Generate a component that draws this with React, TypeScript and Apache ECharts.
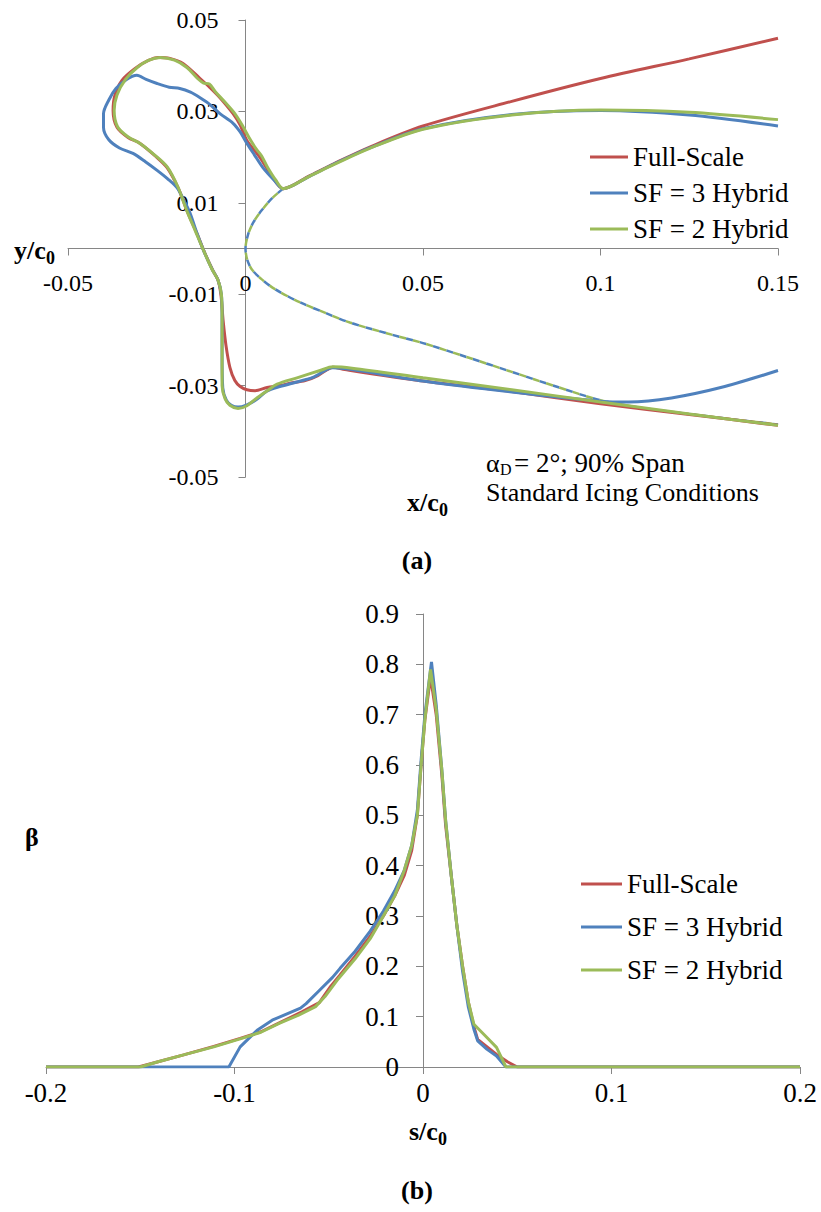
import React, { useEffect, useRef } from "react";
import * as echarts from "echarts";

// Excel-style series colours
const RED = "#C0504D";
const BLUE = "#4F81BD";
const GREEN = "#9BBB59";
const AXIS = "#868686";
const FONT = "'Liberation Serif', 'Times New Roman', serif";

const seriesNames = ["Full-Scale", "SF = 3 Hybrid", "SF = 2 Hybrid"];

// (a) Ice shape outlines, [x/c0, y/c0], traced from the upper aft surface,
// over the upper horn, around the leading edge and back along the lower surface.
const iceFullScale: number[][] = [
  [0.15, 0.046], [0.125, 0.0415], [0.1, 0.0372], [0.075, 0.0322], [0.05, 0.0268],
  [0.035, 0.0222], [0.025, 0.0186], [0.018, 0.0159], [0.0106, 0.0131],
  [0.0077, 0.0155], [0.0041, 0.0199], [0.0004, 0.0236], [-0.0015, 0.027],
  [-0.0035, 0.0295], [-0.0072, 0.033], [-0.01, 0.0352], [-0.0128, 0.0372],
  [-0.0176, 0.0405], [-0.0213, 0.0416], [-0.0246, 0.0418], [-0.0275, 0.0411],
  [-0.0311, 0.0394], [-0.0348, 0.0368], [-0.0368, 0.0335], [-0.0373, 0.0302],
  [-0.0362, 0.0265], [-0.0331, 0.0243], [-0.0297, 0.023], [-0.0255, 0.0203],
  [-0.0221, 0.0177], [-0.019, 0.0133], [-0.0165, 0.0083], [-0.0137, 0.0033],
  [-0.0114, -0.0011], [-0.0092, -0.0048], [-0.0077, -0.007], [-0.0069, -0.0103],
  [-0.0063, -0.0158], [-0.0055, -0.0212], [-0.0044, -0.026], [-0.003, -0.0289],
  [-0.0015, -0.0302], [0.0004, -0.0309], [0.0027, -0.0311], [0.0061, -0.0304],
  [0.0097, -0.03], [0.0125, -0.0295], [0.0168, -0.0289], [0.0204, -0.0278],
  [0.023, -0.0265], [0.0246, -0.026], [0.028, -0.0265], [0.05, -0.029],
  [0.075, -0.0313], [0.1, -0.034], [0.125, -0.0363], [0.15, -0.0387],
];

const iceSF3: number[][] = [
  [0.15, 0.0268], [0.125, 0.0292], [0.1, 0.0302], [0.075, 0.0293], [0.05, 0.0262],
  [0.035, 0.022], [0.025, 0.0185], [0.018, 0.0158], [0.0106, 0.0131],
  [0.008, 0.015], [0.0049, 0.0177], [0.0025, 0.0205], [0.0004, 0.023],
  [-0.0015, 0.0255], [-0.0035, 0.0274], [-0.0072, 0.0295], [-0.01, 0.0315],
  [-0.0128, 0.033], [-0.0155, 0.0342], [-0.0185, 0.035], [-0.0215, 0.0353],
  [-0.0249, 0.0361], [-0.028, 0.037], [-0.0306, 0.0379], [-0.0335, 0.037],
  [-0.0365, 0.035], [-0.0385, 0.0325], [-0.04, 0.0295], [-0.04, 0.0265],
  [-0.0385, 0.0238], [-0.0355, 0.022], [-0.0317, 0.0208], [-0.0282, 0.019],
  [-0.0249, 0.0171], [-0.022, 0.0153], [-0.0193, 0.0133], [-0.017, 0.01],
  [-0.0156, 0.0077], [-0.0136, 0.0032], [-0.0115, -0.001], [-0.0093, -0.0047],
  [-0.0078, -0.0068], [-0.0068, -0.01], [-0.0066, -0.015], [-0.0066, -0.023],
  [-0.0064, -0.0305], [-0.0054, -0.0332], [-0.004, -0.0343], [-0.0021, -0.0347],
  [0.0004, -0.0342], [0.0032, -0.033], [0.006, -0.0312], [0.0097, -0.0302],
  [0.0145, -0.0292], [0.019, -0.0282], [0.0246, -0.0261], [0.03, -0.0265],
  [0.05, -0.029], [0.075, -0.0314], [0.1, -0.0334], [0.108, -0.0336],
  [0.12, -0.0327], [0.135, -0.0302], [0.15, -0.0267],
];

const iceSF2: number[][] = [
  [0.15, 0.0282], [0.125, 0.0298], [0.1, 0.0303], [0.075, 0.0292], [0.05, 0.0261],
  [0.035, 0.0219], [0.025, 0.0184], [0.018, 0.0158], [0.0106, 0.0131],
  [0.0085, 0.015], [0.0062, 0.0178], [0.0045, 0.0203], [0.003, 0.0218],
  [0.0012, 0.024], [-0.0008, 0.0268], [-0.003, 0.0295], [-0.006, 0.0322],
  [-0.0085, 0.0343], [-0.0102, 0.036], [-0.0118, 0.0362], [-0.0135, 0.0372],
  [-0.0165, 0.0396], [-0.02, 0.0412], [-0.024, 0.0418], [-0.0272, 0.0412],
  [-0.0305, 0.0396], [-0.0338, 0.037], [-0.0362, 0.0336], [-0.037, 0.0302],
  [-0.036, 0.0266], [-0.033, 0.0244], [-0.0297, 0.023], [-0.0255, 0.0204],
  [-0.022, 0.0178], [-0.019, 0.0134], [-0.0166, 0.0084], [-0.014, 0.0036],
  [-0.0116, -0.0008], [-0.0094, -0.0046], [-0.0078, -0.0068], [-0.0068, -0.01],
  [-0.0066, -0.015], [-0.0066, -0.023], [-0.0066, -0.03], [-0.0058, -0.0328],
  [-0.0044, -0.0343], [-0.0021, -0.035], [0.0004, -0.0344], [0.0032, -0.0327],
  [0.006, -0.0312], [0.0089, -0.0297], [0.0145, -0.0283], [0.021, -0.0267],
  [0.0246, -0.0259], [0.03, -0.0262], [0.05, -0.0283], [0.075, -0.0309],
  [0.1, -0.0336], [0.125, -0.0362], [0.15, -0.0387],
];

// Clean (un-iced) leading edge, drawn dashed
const cleanAirfoil: number[][] = [
  [0.0106, 0.0131], [0.0075, 0.011], [0.0045, 0.0083], [0.0022, 0.0057],
  [0.0007, 0.003], [0, 0], [0.0005, -0.0025], [0.0018, -0.0046],
  [0.0045, -0.0067], [0.0083, -0.0089], [0.0154, -0.0118], [0.0225, -0.0141],
  [0.0294, -0.0162], [0.04, -0.0186], [0.05, -0.0207], [0.0625, -0.0238],
  [0.075, -0.027], [0.0875, -0.0302], [0.1, -0.0332], [0.1125, -0.035],
  [0.125, -0.0362], [0.1375, -0.0374], [0.15, -0.0385],
];

// (b) Collection efficiency beta against surface distance s/c0
const betaFullScale: number[][] = [
  [-0.2, 0], [-0.151, 0], [-0.141, 0.01], [-0.127, 0.024], [-0.111, 0.041],
  [-0.097, 0.057], [-0.086, 0.07], [-0.076, 0.088], [-0.064, 0.11], [-0.055, 0.128],
  [-0.049, 0.16], [-0.044, 0.183], [-0.036, 0.22], [-0.028, 0.26], [-0.021, 0.3],
  [-0.015, 0.34], [-0.01, 0.38], [-0.006, 0.43], [-0.003, 0.5], [-0.001, 0.6],
  [0.001, 0.69], [0.004, 0.775], [0.007, 0.7], [0.01, 0.58], [0.012, 0.48],
  [0.015, 0.38], [0.018, 0.28], [0.021, 0.2], [0.024, 0.13], [0.027, 0.08],
  [0.029, 0.055], [0.034, 0.04], [0.039, 0.025], [0.045, 0.01], [0.05, 0], [0.2, 0],
];

const betaSF3: number[][] = [
  [-0.2, 0], [-0.103, 0], [-0.097, 0.04], [-0.088, 0.073], [-0.08, 0.093],
  [-0.065, 0.117], [-0.062, 0.126], [-0.055, 0.152], [-0.048, 0.178], [-0.044, 0.196],
  [-0.036, 0.23], [-0.028, 0.27], [-0.021, 0.31], [-0.015, 0.35], [-0.01, 0.39],
  [-0.006, 0.44], [-0.003, 0.51], [-0.001, 0.61], [0.001, 0.7], [0.0045, 0.805],
  [0.007, 0.72], [0.01, 0.59], [0.012, 0.49], [0.015, 0.38], [0.018, 0.28],
  [0.021, 0.19], [0.024, 0.12], [0.027, 0.075], [0.029, 0.052], [0.034, 0.035],
  [0.039, 0.022], [0.044, 0], [0.2, 0],
];

const betaSF2: number[][] = [
  [-0.2, 0], [-0.15, 0], [-0.141, 0.01], [-0.127, 0.024], [-0.111, 0.04],
  [-0.097, 0.056], [-0.086, 0.069], [-0.076, 0.087], [-0.066, 0.103], [-0.057, 0.12],
  [-0.052, 0.14], [-0.045, 0.175], [-0.036, 0.215], [-0.028, 0.255], [-0.021, 0.3],
  [-0.015, 0.34], [-0.01, 0.39], [-0.006, 0.44], [-0.003, 0.5], [-0.001, 0.6],
  [0.001, 0.69], [0.004, 0.79], [0.007, 0.71], [0.01, 0.59], [0.012, 0.49],
  [0.015, 0.38], [0.018, 0.28], [0.021, 0.2], [0.024, 0.13], [0.027, 0.085],
  [0.033, 0.062], [0.039, 0.039], [0.044, 0], [0.2, 0],
];

// Axis ranges and tick steps
const xRangeA = { min: -0.05, max: 0.15, interval: 0.05 };
const yRangeA = { min: -0.05, max: 0.05, interval: 0.02 };
const xRangeB = { min: -0.2, max: 0.2, interval: 0.1 };
const yRangeB = { min: 0, max: 0.9, interval: 0.1 };

// Plot boxes (pixels)
const boxA = { left: 68, top: 20, width: 710, height: 457 };
const boxB = { left: 46, top: 614, width: 754, height: 453 };

const fmt = (digits: number) => (v: number) => String(Number(v.toFixed(digits)));

// Offset that moves an axis from the grid edge to the other axis's zero
const zeroShift = (size: number, min: number, max: number) => -size * (0 - min) / (max - min);

function valueAxis(
  gridIndex: number,
  range: { min: number; max: number; interval: number },
  position: string,
  offset: number,
  fontSize: number,
  margin: number,
  digits: number
) {
  return {
    gridIndex,
    type: "value",
    ...range,
    position,
    offset,
    axisLine: { show: true, onZero: false, lineStyle: { color: AXIS, width: 1 } },
    axisTick: { show: true, inside: false, length: 7, lineStyle: { color: AXIS, width: 1 } },
    axisLabel: {
      color: "#000",
      fontFamily: FONT,
      fontSize,
      margin,
      formatter: fmt(digits),
    },
    splitLine: { show: false },
  };
}

function solid(name: string, color: string, data: number[][], xi: number, smooth: number) {
  return {
    type: "line",
    name,
    xAxisIndex: xi,
    yAxisIndex: xi,
    data,
    symbol: "none",
    smooth,
    lineStyle: { color, width: 3 },
    itemStyle: { color },
    z: 3,
  };
}

function dashed(color: string, offset: number) {
  return {
    type: "line",
    name: "Clean airfoil",
    xAxisIndex: 0,
    yAxisIndex: 0,
    data: cleanAirfoil,
    symbol: "none",
    smooth: 0.3,
    lineStyle: { color, width: 2.5, type: [7, 7], dashOffset: offset },
    itemStyle: { color },
    z: 2,
  };
}

function label(text: string, x: number, y: number, size: number, bold: boolean, align = "left") {
  return {
    type: "text",
    x,
    y,
    style: {
      text,
      fill: "#000",
      fontFamily: FONT,
      fontSize: size,
      fontWeight: bold ? "bold" : "normal",
      align,
      verticalAlign: "middle",
      textAlign: align,
      textVerticalAlign: "middle",
    },
  };
}

function legend(left: number, top: number, iconW: number, gap: number) {
  return {
    data: seriesNames,
    orient: "vertical",
    left,
    top,
    icon: "rect",
    itemWidth: iconW,
    itemHeight: 3,
    itemGap: gap,
    selectedMode: false,
    textStyle: { fontFamily: FONT, fontSize: 27, color: "#000", lineHeight: 28 },
  };
}

const option = {
  animation: false,
  backgroundColor: "#fff",
  textStyle: { fontFamily: FONT },
  grid: [
    { ...boxA, outerBoundsMode: "none", containLabel: false },
    { ...boxB, outerBoundsMode: "none", containLabel: false },
  ],
  xAxis: [
    valueAxis(0, xRangeA, "bottom", zeroShift(boxA.height, yRangeA.min, yRangeA.max), 24, 22, 2),
    valueAxis(1, xRangeB, "bottom", 0, 27, 12, 1),
  ],
  yAxis: [
    valueAxis(0, yRangeA, "left", zeroShift(boxA.width, xRangeA.min, xRangeA.max), 24, 27, 2),
    valueAxis(1, yRangeB, "left", zeroShift(boxB.width, xRangeB.min, xRangeB.max), 27, 24, 1),
  ],
  legend: [legend(585, 138, 38, 8), legend(576, 865, 41, 15)],
  series: [
    dashed(BLUE, 0),
    dashed(GREEN, 7),
    solid(seriesNames[0], RED, iceFullScale, 0, 0.3),
    solid(seriesNames[1], BLUE, iceSF3, 0, 0.3),
    solid(seriesNames[2], GREEN, iceSF2, 0, 0.3),
    solid(seriesNames[0], RED, betaFullScale, 1, 0),
    solid(seriesNames[1], BLUE, betaSF3, 1, 0),
    solid(seriesNames[2], GREEN, betaSF2, 1, 0),
  ],
  graphic: [
    label("y/c", 14, 250, 26, true),
    label("0", 46, 258, 18, true),
    label("x/c", 407, 502, 26, true),
    label("0", 439, 510, 18, true),
    label("α", 486, 463, 26, false),
    label("D", 500, 469, 16, false),
    label("= 2°; 90% Span", 514, 463, 27, false),
    label("Standard Icing Conditions", 486, 492, 26, false),
    label("(a)", 417, 560, 26, true, "center"),
    label("β", 25, 837, 26, true),
    label("s/c", 409, 1131, 26, true),
    label("0", 438, 1139, 18, true),
    label("(b)", 417, 1190, 26, true, "center"),
  ],
};

export default function App() {
  const ref = useRef<HTMLDivElement>(null);
  useEffect(() => {
    document.body.style.margin = "0";
    const chart = echarts.init(ref.current!, null, { renderer: "svg" });
    chart.setOption(option as any);
    return () => chart.dispose();
  }, []);
  return <div ref={ref} style={{ width: 821, height: 1212, background: "#fff" }} />;
}
